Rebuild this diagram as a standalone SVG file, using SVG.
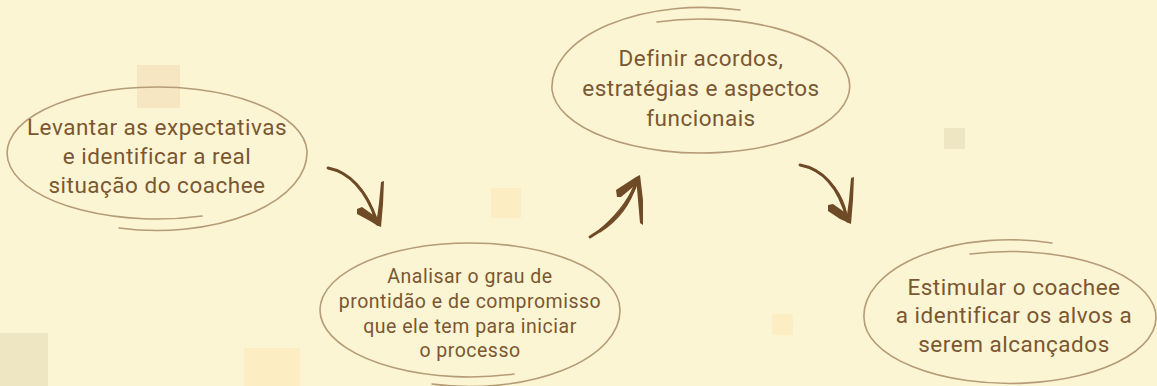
<svg xmlns="http://www.w3.org/2000/svg" width="1157" height="386" viewBox="0 0 1157 386">
<style>
.bg{fill:#FCF5D3}
.sq1{fill:#F6E6C2}
.sq2{fill:#EEE5C3}
.sq3{fill:#FCEDC3}
.oval{fill:none;stroke:#B59B76;stroke-width:1.6;stroke-linecap:round}
.t{font-family:Roboto,"Noto Sans",sans-serif;fill:#7A5732;text-anchor:middle;letter-spacing:0.5px}
.t1{font-size:22.5px}
.t2{font-size:19.5px}
.sh{fill:none;stroke:#6F4A26;stroke-linecap:round}
.hd{fill:#6F4A26}
</style>
<rect class="bg" x="0" y="0" width="1157" height="386"/>
<g id="decor">
<rect class="sq1" x="137" y="65" width="43" height="43"/>
<rect class="sq2" x="0" y="333" width="48" height="53"/>
<rect class="sq3" x="244" y="348" width="56" height="38"/>
<rect class="sq3" x="491" y="188" width="30" height="30"/>
<rect class="sq3" x="772" y="314" width="21" height="21"/>
<rect class="sq2" x="944" y="128" width="21" height="21"/>
</g>
<g id="connectors">
<g id="arrow1">
<path class="sh" stroke-width="2.8" d="M328,168 Q360,174 377,221"/>
<path class="sh" stroke-width="1.2" d="M334,170 Q364,181 374,217"/>
<path class="sh" stroke-width="1.1" d="M340,172 Q366,184 376,219"/>
<path class="hd" d="M381,182 L384,181 L383,204 L381,227 L376,225 L379,203 Z"/>
<path class="hd" d="M357,209 L362,207 L379,219 L378,226 L370,221 L357,214 Z"/>
</g>
<g id="arrow2">
<path class="sh" stroke-width="2.8" d="M590,237 Q626,216 638,179"/>
<path class="sh" stroke-width="1.2" d="M596,233 Q624,210 634,186"/>
<path class="sh" stroke-width="1.1" d="M600,232 Q628,214 636,184"/>
<path class="hd" d="M636,177 L640,175 L643,200 L643,225 L640,223 L638,200 Z"/>
<path class="hd" d="M616,190 L636,177 L639,182 L621,197 L617,197 Z"/>
</g>
<g id="arrow3">
<path class="sh" stroke-width="2.8" d="M800,165 Q834,171 847,218"/>
<path class="sh" stroke-width="1.2" d="M806,167 Q838,178 845,213"/>
<path class="sh" stroke-width="1.1" d="M811,169 Q840,182 847,215"/>
<path class="hd" d="M851,178 L854,177 L853,200 L851,224 L846,222 L849,200 Z"/>
<path class="hd" d="M828,205 L833,204 L850,216 L849,223 L840,219 L828,211 Z"/>
</g>
</g>
<g id="node1">
<path class="oval" d="M202,216 A150 66 0 1 1 307,151 A150 78 0 0 1 119,228"/>
<text class="t t1" x="157" y="135">Levantar as expectativas</text>
<text class="t t1" x="157" y="164">e identificar a real</text>
<text class="t t1" x="157" y="193">situação do coachee</text>
</g>
<g id="node2">
<path class="oval" d="M514,374 A150 67 0 1 1 620,310 A150 76 0 0 1 432,384"/>
<text class="t t2" x="470" y="283">Analisar o grau de</text>
<text class="t t2" x="470" y="308">prontidão e de compromisso</text>
<text class="t t2" x="470" y="333">que ele tem para iniciar</text>
<text class="t t2" x="470" y="357">o processo</text>
</g>
<g id="node3">
<path class="oval" d="M657,22 A149 67 0 1 1 552,90 A150 80 0 0 1 740,10"/>
<text class="t t1" x="701" y="66">Definir acordos,</text>
<text class="t t1" x="701" y="96">estratégias e aspectos</text>
<text class="t t1" x="701" y="126">funcionais</text>
</g>
<g id="node4">
<path class="oval" d="M970,254 A146 66 0 1 1 864,318 A146 76 0 0 1 1052,243"/>
<text class="t t1" x="1014" y="295">Estimular o coachee</text>
<text class="t t1" x="1014" y="323">a identificar os alvos a</text>
<text class="t t1" x="1014" y="352">serem alcançados</text>
</g>
</svg>
